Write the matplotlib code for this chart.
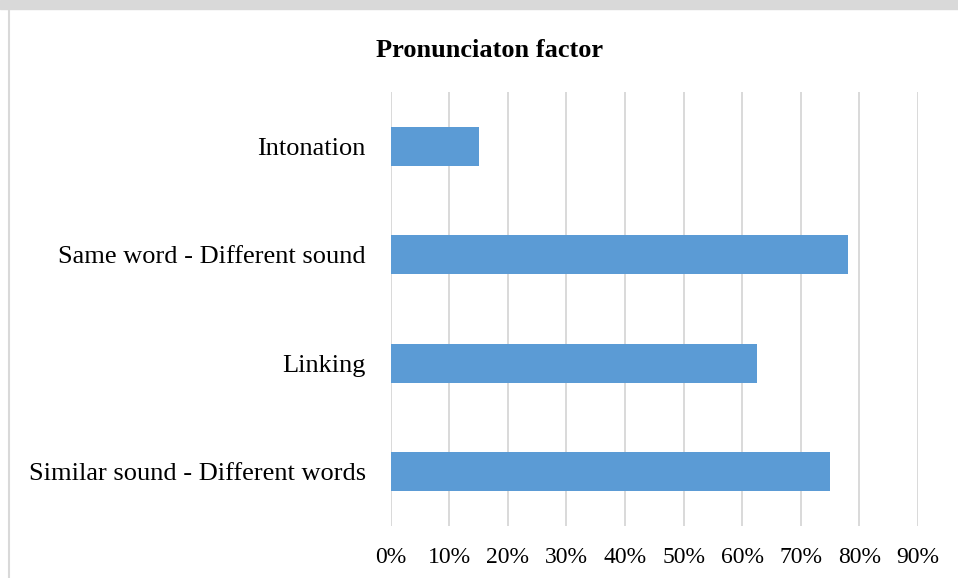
import matplotlib
matplotlib.use("Agg")
import matplotlib.pyplot as plt
from matplotlib.lines import Line2D
from matplotlib.patches import Rectangle
from matplotlib.ticker import FuncFormatter, MultipleLocator

categories = [
    "Similar sound - Different words",
    "Linking",
    "Same word - Different sound",
    "Intonation",
]
shares = [0.75, 0.625, 0.78, 0.15]

title = "Pronunciaton factor"
bar_color = "#5b9bd5"
grid_color = "#d9d9d9"

plt.rcParams["font.family"] = ["Liberation Serif", "DejaVu Serif"]

fig = plt.figure(figsize=(9.58, 5.78), dpi=100)
ax = fig.add_axes([0.408, 0.090, 0.550, 0.751])

ax.barh(range(len(categories)), shares, height=0.357, color=bar_color, zorder=3)
ax.set_yticks(range(len(categories)))
ax.set_yticklabels(categories, fontsize=19)
ax.set_ylim(-0.5, len(categories) - 0.5)

ax.set_xlim(0, 0.9)
ax.xaxis.set_major_locator(MultipleLocator(0.1))
ax.xaxis.set_major_formatter(FuncFormatter(lambda v, _: f"{v * 100:.0f}%"))
ax.tick_params(axis="x", labelsize=17, length=0, pad=15)
ax.tick_params(axis="y", length=0, pad=18)
ax.grid(axis="x", color=grid_color, linewidth=1.4, zorder=0)
for side in ax.spines.values():
    side.set_visible(False)

fig.text(0.511, 0.913, title, ha="center", va="center",
         fontsize=19, fontweight="bold")

# scanned page edges: grey strip on top and border line on the left
fig.add_artist(Rectangle((0, 1 - 9 / 578), 1, 9 / 578, transform=fig.transFigure,
                         color=grid_color, zorder=0))
fig.add_artist(Line2D([9 / 958, 9 / 958], [0, 1 - 9 / 578], transform=fig.transFigure,
                      color=grid_color, linewidth=1.5))

fig.savefig("out.png", dpi=100)
